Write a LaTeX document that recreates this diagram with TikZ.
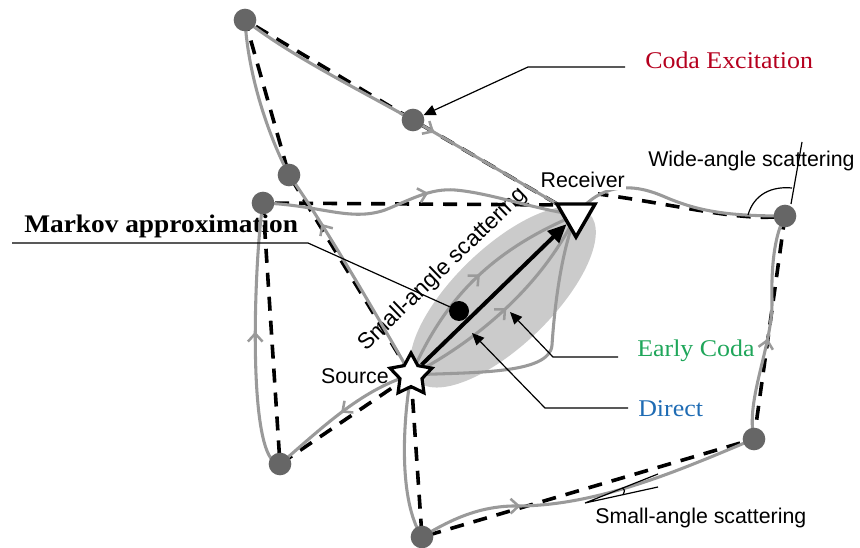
\documentclass[tikz,border=0pt]{standalone}
\usepackage{fontspec}
\setmainfont{Liberation Serif}
\newfontfamily\lsans{Liberation Sans}
\newfontfamily\lserif[FakeStretch=1.08]{Liberation Serif}
\usetikzlibrary{arrows.meta,shapes.geometric,decorations.markings}
\definecolor{pathgray}{HTML}{9A9A9A}
\definecolor{dotgray}{HTML}{666666}
\definecolor{ellgray}{HTML}{CBCBCB}
\definecolor{codared}{HTML}{B5001E}
\definecolor{earlygreen}{HTML}{1FA65A}
\definecolor{directblue}{HTML}{1F6CB4}
\begin{document}
\begin{tikzpicture}[x=0.75pt,y=-0.75pt,
  gpath/.style={draw=pathgray,line width=2.3pt},
  dpath/.style={draw=black,line width=2.7pt,dash pattern=on 10.5pt off 7.5pt},
  garrow/.style={postaction={decorate,decoration={markings,mark=at position #1 with {\arrow{Straight Barb[length=6pt,width=11pt,line width=1.9pt]}}}}},
  scat/.style={circle,fill=dotgray,minimum size=17pt,inner sep=0pt},
  leader/.style={draw=black,line width=0.9pt},
  ltip/.style={-{Triangle[length=9pt,width=8pt]}},
  sanslab/.style={font=\lsans\fontsize{16}{18}\selectfont,inner sep=0pt},
  seriflab/.style={font=\lserif\fontsize{18}{20}\selectfont,inner sep=0pt},
]
\useasboundingbox (0,0) rectangle (860,548);
% positions
\coordinate (S) at (411,375);
\coordinate (R) at (576,215);
\coordinate (Rw) at (565,205);
\coordinate (Rne) at (598,194);
\coordinate (A) at (245,20);
\coordinate (B) at (413,120);
\coordinate (C) at (289,175);
\coordinate (D) at (263,203);
\coordinate (E) at (785,216);
\coordinate (F) at (754,439);
\coordinate (G) at (280,464);
\coordinate (H) at (422,537);
\coordinate (M) at (459,311);
% ellipse
\fill[ellgray, rotate around={44:(503,297)}] (503,297) ellipse [x radius=120, y radius=49];
% texts under the paths
\node[seriflab,font=\lserif\bfseries\fontsize{19}{21}\selectfont,anchor=base west] (mk) at (24,233) {Markov approximation};
\node[sanslab,font=\lsans\fontsize{17}{19}\selectfont,anchor=base west,rotate=44] (sal2) at (366,352) {Small-angle scattering};
% dashed straight paths
\draw[dpath] (S) -- (C) -- (A) -- (B) -- (R);
\draw[dpath] (S) -- (G) -- (D) -- (Rw);
\draw[dpath] (S) -- (H) -- (F) -- (E) .. controls (740,222) and (680,205) .. (Rne);
% gray scattered paths
\draw[gpath,garrow=0.75] (S) .. controls (385,330) and (325,225) .. (C);
\draw[gpath] (C) .. controls (268,135) and (248,75) .. (A);
\draw[gpath] (A) .. controls (290,55) and (350,85) .. (B);
\draw[gpath,garrow=0.13] (B) -- (R);
\draw[gpath,garrow=0.5] (S) .. controls (360,390) and (320,430) .. (G);
\draw[gpath,garrow=0.52] (G) .. controls (245,465) and (255,250) .. (D);
\draw[gpath,garrow=0.53] (D) .. controls (320,205) and (350,222) .. (385,210) .. controls (410,200) and (430,188) .. (455,190) .. controls (490,193) and (530,208) .. (R);
\draw[gpath] (S) .. controls (403,420) and (398,500) .. (H);
\draw[gpath,garrow=0.3] (H) .. controls (450,520) and (480,505) .. (520,506) .. controls (600,505) and (680,470) .. (F);
\draw[gpath,garrow=0.45] (F) .. controls (745,400) and (773,345) .. (772,300) .. controls (771,260) and (776,232) .. (E);
\draw[gpath] (E) .. controls (730,216) and (700,212) .. (665,197) .. controls (640,186) and (605,178) .. (R);
\draw[gpath,garrow=0.52] (S) .. controls (440,310) and (480,255) .. (R);
\draw[gpath,garrow=0.5] (S) .. controls (470,345) and (540,290) .. (R);
\draw[gpath] (S) .. controls (470,372) and (550,375) .. (552,345) .. controls (555,300) and (562,250) .. (R);
% scatterers
\node[scat] (dA) at (A) {};
\node[scat] (dB) at (B) {};
\node[scat] (dC) at (C) {};
\node[scat] (dD) at (D) {};
\node[scat] (dE) at (E) {};
\node[scat] (dF) at (F) {};
\node[scat] (dG) at (G) {};
\node[scat] (dH) at (H) {};
\node[circle,fill=black,minimum size=15pt,inner sep=0pt] (mdot) at (M) {};
% labels
\node[seriflab,text=codared,anchor=base west] (ce) at (645,69) {Coda Excitation};
\node[seriflab,text=earlygreen,anchor=base west] (ecl) at (637,357) {Early Coda};
\node[seriflab,text=directblue,anchor=base west] (dl) at (638,417) {Direct};
\node[sanslab,anchor=base east] (srcl) at (389,384) {Source};
\node[sanslab,anchor=base west,fill=white,inner sep=1pt] (rcvl) at (539,188) {Receiver};
\node[sanslab,anchor=base west] (wal) at (648,167) {Wide-angle scattering};
\node[sanslab,anchor=base west] (sal) at (595,523) {Small-angle scattering};
% leaders
\coordinate (ceL) at (625,67);
\coordinate (ecL) at (618,357);
\coordinate (ecT) at (510,312);
\coordinate (drL) at (628,408);
\coordinate (drT) at (472,333);
\coordinate (mkL) at (12,243);
\draw[leader,ltip] (ceL) -- (528,67) -- (dB);
\draw[leader,ltip] (ecL) -- (553,357) -- (ecT);
\draw[leader,ltip] (drL) -- (545,408) -- (drT);
\draw[leader] (mkL) -- (308,243) -- (mdot);
% scattering angle marks
\coordinate (waT) at (802,142);
\coordinate (waB) at (791,204);
\draw[leader] (waT) -- (waB);
\draw[leader] (748,215) .. controls (754,194) and (772,186) .. (792,188);
\coordinate (saO) at (585,503);
\coordinate (saA) at (658,474);
\coordinate (saB) at (658,487);
\draw[leader] (saA) -- (saO) -- (saB);
\draw[leader] (622,488) .. controls (625,490) .. (623,495);
% source and receiver
\node[regular polygon,regular polygon sides=3,shape border rotate=180,draw=black,fill=white,line width=2.6pt,minimum size=33pt,inner sep=0pt] (rcv) at (R) {};
\node[star,star points=5,star point ratio=1.9,draw=black,fill=white,line width=2.4pt,minimum size=33pt,inner sep=0pt] (src) at (S) {};
\draw[line width=3pt,-{Triangle[length=14pt,width=12pt]}] (src) -- (rcv);
\end{tikzpicture}
\end{document}
